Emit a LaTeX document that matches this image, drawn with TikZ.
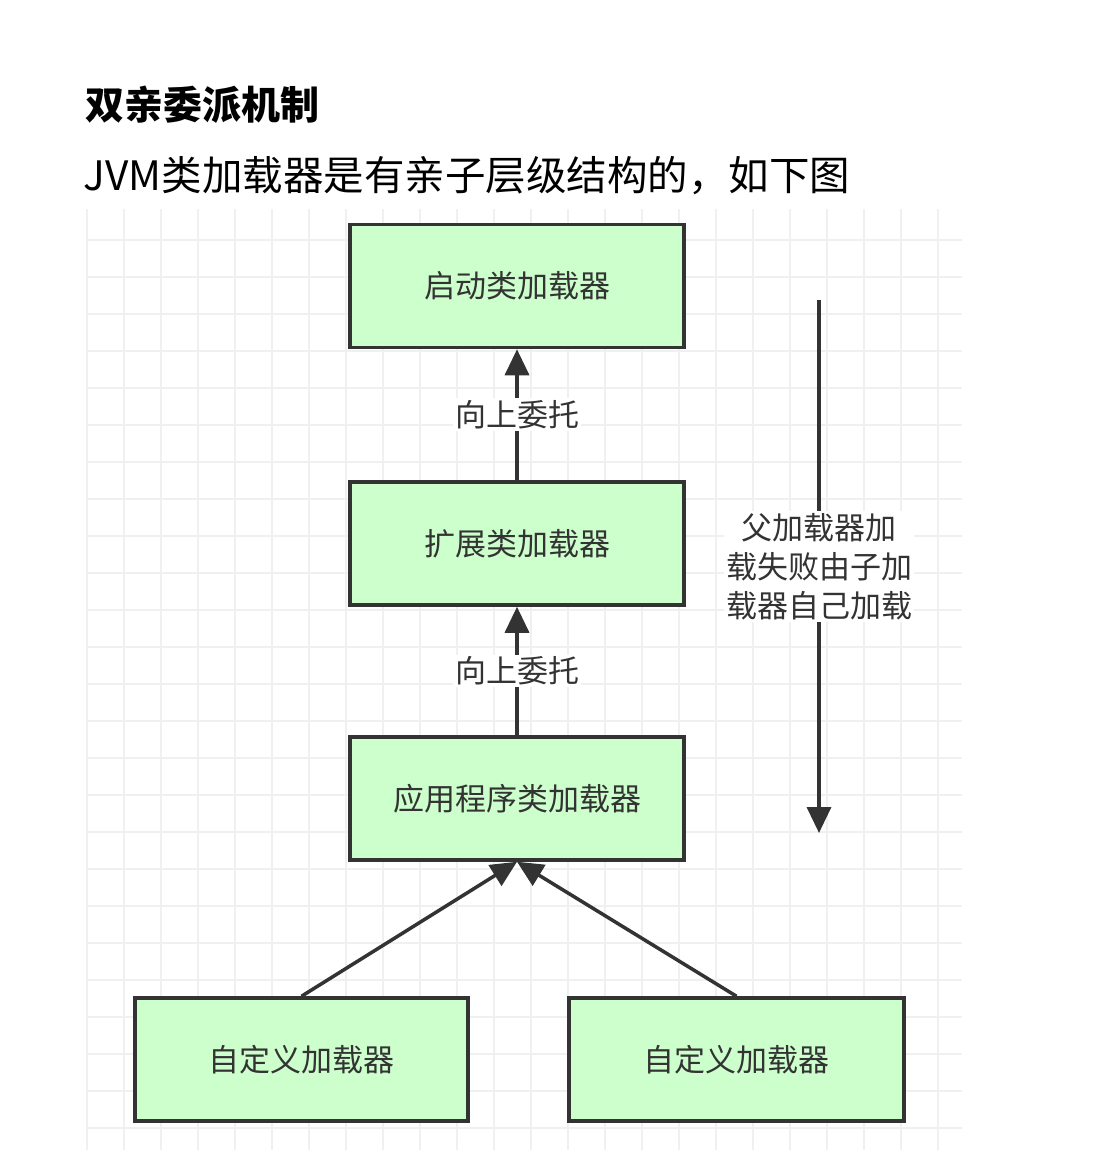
\documentclass[tikz,border=0pt]{standalone}
\usepackage{fontspec}
\setmainfont{Noto Sans CJK SC}
\usetikzlibrary{arrows.meta}

\tikzset{every picture/.style={line width=0.75pt}}
\tikzset{
  loader/.style={draw={rgb,255:red,51;green,51;blue,51},line width=3.5pt,fill={rgb,255:red,204;green,255;blue,204},
    minimum width=334pt,minimum height=123pt,font=\fontsize{31}{33}\selectfont,text={rgb,255:red,51;green,51;blue,51}},
  link/.style={draw={rgb,255:red,51;green,51;blue,51},line width=3.5pt,-{Triangle[length=26pt,width=24pt]}},
  tag/.style={fill=white,inner sep=2pt,font=\fontsize{31}{39}\selectfont,text={rgb,255:red,51;green,51;blue,51},align=center}
}

\begin{document}
\begin{tikzpicture}[x=1pt,y=1pt,yscale=-1]
\useasboundingbox (0,0) rectangle (1106,1153);
\fill[white] (0,0) rectangle (1106,1153);

%Grid
\foreach \gx in {87,124,...,962} \draw[black!6,line width=2pt] (\gx,209) -- (\gx,1150);
\foreach \gy in {240,277,...,1150} \draw[black!6,line width=2pt] (87,\gy) -- (962,\gy);

% Text Node
\node[anchor=west,font=\fontsize{39}{41}\selectfont\bfseries] (title) at (82,105) {双亲委派机制};
% Text Node
\node[anchor=west,font=\fontsize{40.5}{42}\selectfont] (intro) at (80,176) {JVM类加载器是有亲子层级结构的，如下图};

%Loaders
\node[loader] (boot) at (517,286) {启动类加载器};
\node[loader] (ext) at (517,543.5) {扩展类加载器};
\node[loader] (app) at (517,798.5) {应用程序类加载器};
\node[loader,minimum width=333pt] (cus1) at (301.5,1059.5) {自定义加载器};
\node[loader,minimum width=335pt] (cus2) at (736.5,1059.5) {自定义加载器};

%Connectors
\draw[link] (ext) -- node[tag] {向上委托} (boot);
\draw[link] (app) -- node[tag] {向上委托} (ext);
\draw[link] (cus1.north) -- (app.south);
\draw[link] (cus2.north) -- (app.south);

\coordinate (top) at (819,300);
\coordinate (bot) at (819,833);
\draw[link] (top) -- node[tag,pos=0.5] {父加载器加\\载失败由子加\\载器自己加载} (bot);

\end{tikzpicture}
\end{document}
